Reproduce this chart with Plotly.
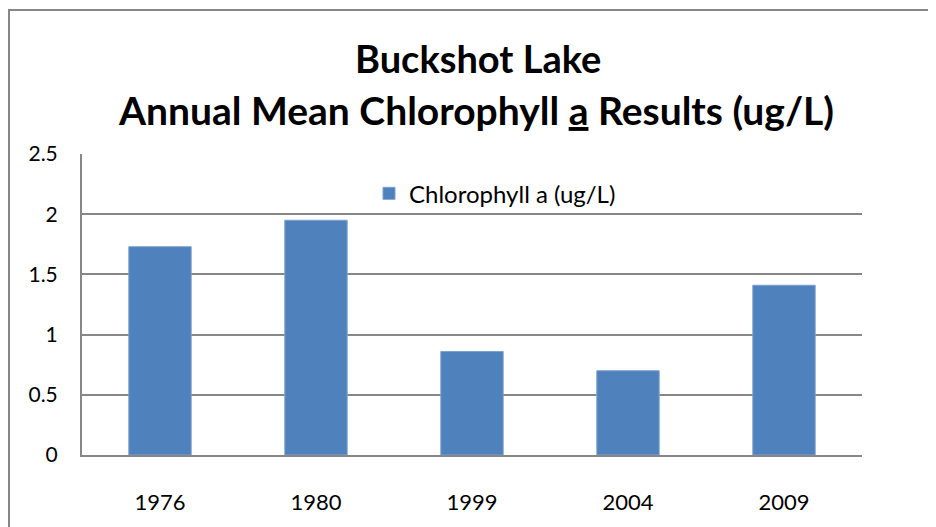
import plotly.graph_objects as go

categories = ["1976", "1980", "1999", "2004", "2009"]
chlorophyll = [1.73, 1.95, 0.86, 0.70, 1.41]
series_name = "Chlorophyll a (ug/L)"
y_ticks = [0, 0.5, 1, 1.5, 2, 2.5]
y_tick_labels = ["0", "0.5", "1", "1.5", "2", "2.5"]

# page is drawn with an 8px body margin; work in reference pixel coords
OFF = 8
W, H = 936 - OFF, 527 - OFF
L, R, T, B = 82 - OFF, 862 - OFF, 154 - OFF, 457 - OFF
pw, ph = R - L, B - T

def px_x(x):
    return (x - OFF - L) / pw

def px_y(y):
    return (B - (y - OFF)) / ph

FONT = "Lato, Carlito, Calibri, sans-serif"

fig = go.Figure()
fig.add_trace(go.Bar(
    x=categories, y=chlorophyll, name=series_name,
    marker=dict(color="#4F81BD", line=dict(color="#7EA1CD", width=1)),
    showlegend=True,
))

fig.update_layout(
    width=W, height=H,
    margin=dict(l=L, r=W - R, t=T, b=H - B, pad=0),
    paper_bgcolor="white", plot_bgcolor="white",
    bargap=0.6,
    font=dict(family=FONT, size=22, color="black"),
    showlegend=True,
    legend=dict(x=px_x(369), y=px_y(194), xanchor="left", yanchor="middle",
                bgcolor="rgba(0,0,0,0)", font=dict(size=24, family=FONT),
                itemwidth=30),
    xaxis=dict(showgrid=False, showline=True, linecolor="#878787", linewidth=2,
               ticks="", tickfont=dict(size=22), ticklabelstandoff=27,
               fixedrange=True),
    yaxis=dict(range=[0, 2.5], tickvals=y_ticks, ticktext=y_tick_labels,
               showgrid=True, gridcolor="#878787", gridwidth=2,
               showline=True, linecolor="#878787", linewidth=2,
               ticks="", tickfont=dict(size=21), ticklabelstandoff=18,
               zeroline=False, fixedrange=True),
    annotations=[
        dict(text="<b>Buckshot Lake</b>", xref="paper", yref="paper",
             x=px_x(478), y=px_y(57), xanchor="center", yanchor="middle",
             showarrow=False, font=dict(size=38, family=FONT, color="black")),
        dict(text="<b>Annual Mean Chlorophyll <u>a</u> Results (ug/L)</b>",
             xref="paper", yref="paper",
             x=px_x(476), y=px_y(110), xanchor="center", yanchor="middle",
             showarrow=False, font=dict(size=39, family=FONT, color="black")),
    ],
    shapes=[
        dict(type="rect", xref="paper", yref="paper",
             x0=px_x(9), x1=px_x(936 + 20), y0=px_y(527 + 20), y1=px_y(9),
             line=dict(color="#878787", width=2), fillcolor="rgba(0,0,0,0)",
             layer="below"),
    ],
)

fig.write_html("out.html")
